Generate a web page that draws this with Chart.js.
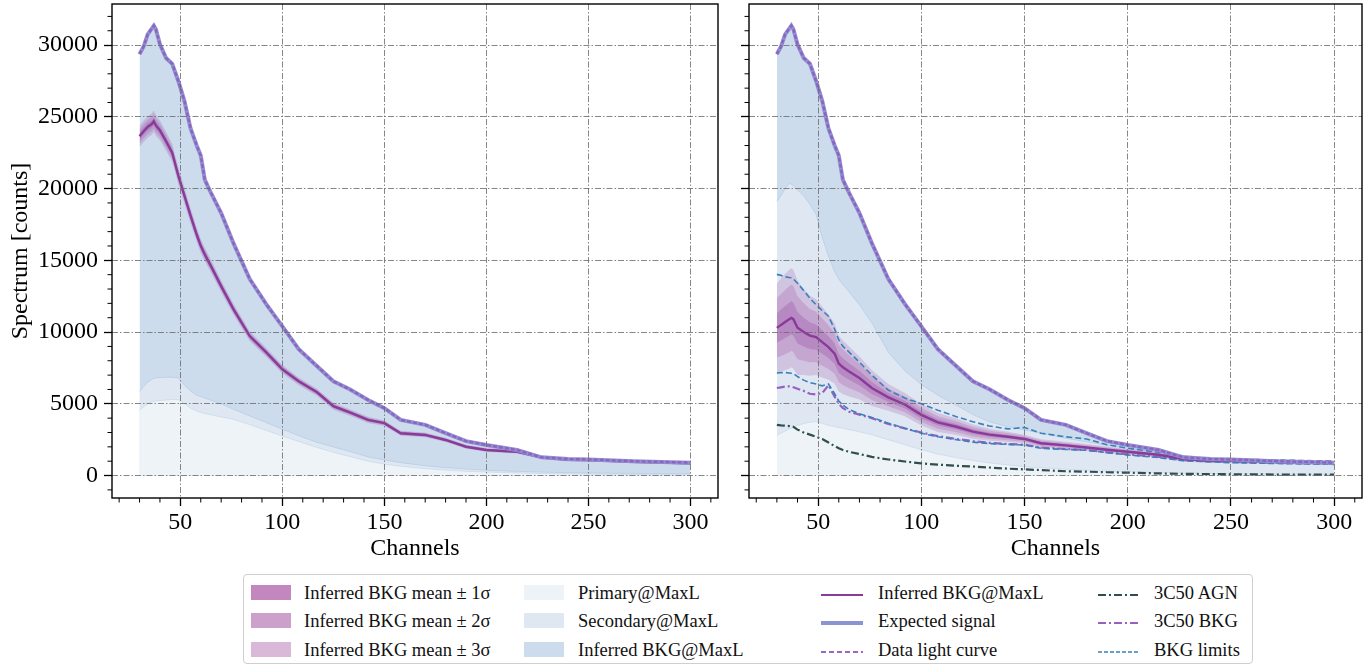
<!DOCTYPE html>
<html>
<head>
<meta charset="utf-8">
<script src="https://cdn.jsdelivr.net/npm/chart.js@4.4.1/dist/chart.umd.min.js"></script>
<style>
  body { margin: 0; background: #fff; width: 1371px; height: 668px; overflow: hidden;
         font-family: 'Liberation Serif', 'Times New Roman', serif; }
  #left { position: absolute; left: 0; top: 0; }
  #right { position: absolute; left: 730px; top: 0; }
  #legend { position: absolute; left: 243px; top: 574px; width: 1010px; height: 90px;
            border: 1px solid #cfcfcf; border-radius: 4px; box-sizing: border-box; }
  .sw { position: absolute; }
  .lbl { position: absolute; font-size: 18.5px; color: #111; white-space: nowrap; line-height: 20px; }
</style>
</head>
<body>
<canvas id="left" width="730" height="570"></canvas>
<canvas id="right" width="641" height="570"></canvas>
<div id="legend"></div>
<script>
const channels = [30, 32, 34, 36, 37, 38, 40, 43, 46, 49, 52, 55, 58, 60, 62, 65, 70, 76, 84, 92,
                  100, 108, 117, 125, 133, 142, 150, 158, 170, 180, 190, 200, 215, 227, 240, 250, 272, 300];

// both panels
const expectedSignal = [29370, 29900, 30750, 31150, 31350, 31100, 30050, 29100, 28700, 27500,
                        26100, 24200, 23000, 22300, 20600, 19700, 18300, 16200, 13700, 11960,
                        10400, 8810, 7620, 6570, 6010, 5270, 4700, 3880, 3530, 2950,
                        2400, 2130, 1780, 1270, 1150, 1120, 1000, 900];
const dataLightCurve = expectedSignal;

// left panel
const leftMean = [23640, 24000, 24300, 24500, 24690, 24400, 24060, 23300, 22500, 20900,
                  19500, 18110, 16800, 16010, 15400, 14600, 13200, 11600, 9720, 8600,
                  7410, 6570, 5800, 4830, 4400, 3880, 3650, 2950, 2830, 2480,
                  2010, 1780, 1660, 1270, 1100, 1080, 960, 860];
const leftSigma = [250, 250, 250, 250, 250, 240, 230, 220, 210, 200,
                   190, 180, 170, 165, 160, 150, 140, 130, 115, 105,
                   100, 90, 85, 80, 75, 70, 65, 60, 55, 50,
                   48, 45, 42, 40, 38, 36, 34, 32];
const leftPrimary = [4550, 4800, 5000, 5150, 5170, 5200, 5230, 5260, 5300, 5300,
                     5000, 4700, 4500, 4400, 4330, 4230, 4080, 3920, 3550, 3150,
                     2750, 2380, 1960, 1620, 1330, 1000, 800, 650, 480, 380,
                     300, 240, 180, 140, 110, 95, 70, 50];
const leftSecondary = [5870, 6200, 6500, 6700, 6780, 6800, 6830, 6850, 6850, 6800,
                       6300, 5900, 5600, 5500, 5400, 5250, 5000, 4620, 4150, 3700,
                       3220, 2780, 2310, 1990, 1680, 1300, 1080, 900, 680, 550,
                       450, 370, 290, 240, 200, 180, 150, 120];

// right panel
const rightMean = [10290, 10500, 10700, 10900, 10990, 10900, 10300, 10000, 9750, 9650,
                   9300, 8950, 8500, 7800, 7550, 7250, 6800, 6100, 5450, 4950,
                   4230, 3700, 3400, 3060, 2850, 2700, 2550, 2250, 2100, 1950,
                   1800, 1660, 1450, 1150, 1050, 1030, 960, 900];
const rightSigma = [1030, 1080, 1120, 1150, 1150, 1150, 1100, 1000, 930, 880,
                    820, 760, 700, 650, 620, 580, 500, 420, 310, 270,
                    250, 220, 190, 165, 140, 120, 100, 95, 85, 80,
                    75, 70, 65, 60, 55, 55, 50, 45];
const rightPrimary = [2820, 2950, 3100, 3250, 3300, 3380, 3500, 3620, 3720, 3760,
                      3650, 3500, 3420, 3350, 3300, 3200, 3050, 2850, 2500, 2150,
                      1800, 1500, 1250, 1050, 880, 740, 620, 540, 440, 370,
                      310, 270, 210, 170, 140, 120, 100, 80];
const rightSecondary = [19080, 19500, 20000, 20360, 20300, 20200, 19900, 19500, 18900, 18200,
                        16600, 15300, 14200, 13700, 13300, 12800, 11900, 10650, 8600, 7300,
                        6350, 5600, 4900, 4250, 3750, 3400, 3180, 2950, 2600, 2350,
                        2100, 1900, 1600, 1400, 1200, 1100, 900, 750];
const bkgUpper = [14020, 13950, 13850, 13800, 13780, 13700, 13400, 12900, 12350, 11900,
                  11500, 11100, 10200, 9450, 9000, 8600, 7900, 7000, 5950, 5400,
                  5000, 4550, 4100, 3750, 3450, 3250, 3350, 2950, 2700, 2550,
                  2150, 1900, 1620, 1270, 1180, 1150, 1080, 1010];
const bkgLower = [7150, 7170, 7180, 7150, 7130, 7100, 6900, 6650, 6480, 6380,
                  6250, 6380, 5700, 5200, 4900, 4600, 4300, 4050, 3650, 3300,
                  2950, 2700, 2500, 2330, 2230, 2170, 2130, 1900, 1820, 1760,
                  1600, 1430, 1250, 1030, 950, 900, 840, 780];
const bkg3C50 = [6100, 6150, 6200, 6220, 6200, 6150, 6050, 5900, 5700, 5650,
                 5750, 6300, 5500, 5000, 4700, 4450, 4250, 4000, 3600, 3280,
                 3000, 2750, 2550, 2400, 2280, 2200, 2150, 1950, 1850, 1780,
                 1620, 1480, 1300, 1080, 990, 950, 880, 820];
const agn3C50 = [3530, 3500, 3480, 3450, 3420, 3400, 3200, 3000, 2850, 2700,
                 2550, 2300, 2050, 1900, 1780, 1650, 1500, 1300, 1120, 980,
                 850, 760, 680, 630, 560, 480, 430, 380, 300, 270,
                 230, 200, 150, 120, 100, 90, 70, 60];

// ticks
const xTicks = [50, 100, 150, 200, 250, 300];
const yTicks = [0, 5000, 10000, 15000, 20000, 25000, 30000];

const FONT = "'Liberation Serif', 'Times New Roman', serif";
const gridColor = 'rgba(105,105,105,0.8)';

function pts(vals) {
    return channels.map((c, i) => ({ x: c, y: vals[i] }));
}

function band(mean, sigma, k, sign) {
    return mean.map((m, i) => m + sign * k * sigma[i]);
}

// datasets are pushed in drawing order (first = bottom)
function buildDatasets(mean, sigma, primary, secondary, extras) {
    var ds = [];
    function add(d) {
        d.pointRadius = 0;
        d.tension = 0;
        d.order = 1000 - ds.length;
        ds.push(d);
        return ds.length - 1;
    }
    add({ data: pts(expectedSignal), fill: 'origin', backgroundColor: '#ccdcec',
          borderColor: 'rgba(160,185,215,0.5)', borderWidth: 1 });
    add({ data: pts(secondary), fill: 'origin', backgroundColor: '#dfe8f2',
          borderColor: 'rgba(170,195,225,0.55)', borderWidth: 1 });
    add({ data: pts(primary), fill: 'origin', backgroundColor: '#eef3f8',
          borderColor: 'rgba(185,205,230,0.5)', borderWidth: 1 });

    var bandColors = { 3: 'rgba(160,70,165,0.22)', 2: 'rgba(150,60,155,0.22)', 1: 'rgba(140,45,145,0.24)' };
    [3, 2, 1].forEach(function (k) {
        var lo = add({ data: pts(band(mean, sigma, k, -1)), fill: false, borderWidth: 0, borderColor: 'transparent' });
        add({ data: pts(band(mean, sigma, k, 1)), fill: lo, backgroundColor: bandColors[k],
              borderWidth: 0, borderColor: 'transparent' });
    });

    if (extras) {
        add({ data: pts(agn3C50), fill: false, borderColor: '#2f4f4f', borderWidth: 2.2, borderDash: [8, 3, 2, 3] });
        add({ data: pts(bkg3C50), fill: false, borderColor: '#9660c0', borderWidth: 2.2, borderDash: [8, 3, 2, 3] });
        add({ data: pts(bkgUpper), fill: false, borderColor: '#3a80bb', borderWidth: 1.6, borderDash: [6, 3] });
        add({ data: pts(bkgLower), fill: false, borderColor: '#3a80bb', borderWidth: 1.6, borderDash: [6, 3] });
    }

    add({ data: pts(mean), fill: false, borderColor: '#8a3a98', borderWidth: 2.4 });
    add({ data: pts(expectedSignal), fill: false, borderColor: '#8c93d2', borderWidth: 4 });
    add({ data: pts(dataLightCurve), fill: false, borderColor: '#9460c0', borderWidth: 2.4, borderDash: [4, 2] });
    return ds;
}

// minor ticks and the black frame round the plot
const frameAndMinor = {
    id: 'frameAndMinor',
    afterDraw(chart) {
        const ctx = chart.ctx, a = chart.chartArea;
        const xs = chart.scales.x, ys = chart.scales.y;
        ctx.save();
        ctx.strokeStyle = '#000';
        ctx.lineWidth = 1;
        ctx.beginPath();
        for (let v = 20; v <= 310; v += 10) {
            if (v % 50 === 0) continue;
            const px = xs.getPixelForValue(v);
            ctx.moveTo(px, a.bottom);
            ctx.lineTo(px, a.bottom + 4.5);
        }
        for (let v = -1000; v <= 32000; v += 1000) {
            if (v % 5000 === 0) continue;
            const py = ys.getPixelForValue(v);
            ctx.moveTo(a.left, py);
            ctx.lineTo(a.left - 4.5, py);
        }
        ctx.stroke();
        ctx.lineWidth = 1.4;
        ctx.strokeRect(a.left, a.top, a.right - a.left, a.bottom - a.top);
        ctx.restore();
    }
};

function makeChart(id, datasets, yWidth, padRight, showY) {
    const ctx = document.getElementById(id).getContext('2d');
    return new Chart(ctx, {
        type: 'line',
        data: { datasets: datasets },
        options: {
            responsive: false,
            animation: false,
            layout: { padding: { left: 0, right: padRight, top: 4, bottom: 0 } },
            plugins: { legend: { display: false }, tooltip: { enabled: false } },
            scales: {
                x: {
                    type: 'linear', min: 16.5, max: 313.5,
                    afterBuildTicks: s => { s.ticks = xTicks.map(v => ({ value: v })); },
                    afterFit: s => { s.height = 72; s.paddingLeft = 0; s.paddingRight = 0; },
                    grid: { color: gridColor, lineWidth: 1, z: 1, tickLength: 8, tickColor: '#000',
                            tickWidth: 1.3, tickBorderDash: [] },
                    border: { display: false, dash: [6, 2, 1.5, 2] },
                    ticks: { autoSkip: false, maxRotation: 0, color: '#000', padding: 2,
                             font: { family: FONT, size: 24 }, callback: v => String(v) },
                    title: { display: true, text: 'Channels', color: '#000',
                             font: { family: FONT, size: 24 }, padding: { top: 0, bottom: 7 } }
                },
                y: {
                    type: 'linear', min: -1565, max: 32865,
                    afterBuildTicks: s => { s.ticks = yTicks.map(v => ({ value: v })); },
                    afterFit: s => { s.width = yWidth; s.paddingTop = 0; s.paddingBottom = 0; },
                    grid: { color: gridColor, lineWidth: 1, z: 1, tickLength: 8, tickColor: '#000',
                            tickWidth: 1.3, tickBorderDash: [] },
                    border: { display: false, dash: [6, 2, 1.5, 2] },
                    ticks: { display: showY, color: '#000', padding: 6,
                             font: { family: FONT, size: 24 }, callback: v => String(v) },
                    title: { display: showY, text: 'Spectrum [counts]', color: '#000',
                             font: { family: FONT, size: 24 }, padding: { top: 6, bottom: 0 } }
                }
            }
        },
        plugins: [frameAndMinor]
    });
}

// shared legend below both panels
const legendItems = [
    { col: 0, row: 0, kind: 'box', color: '#c187be', label: 'Inferred BKG mean ± 1σ' },
    { col: 0, row: 1, kind: 'box', color: '#cd9fcb', label: 'Inferred BKG mean ± 2σ' },
    { col: 0, row: 2, kind: 'box', color: '#dab9d8', label: 'Inferred BKG mean ± 3σ' },
    { col: 1, row: 0, kind: 'box', color: '#eef3f8', label: 'Primary@MaxL' },
    { col: 1, row: 1, kind: 'box', color: '#dfe8f2', label: 'Secondary@MaxL' },
    { col: 1, row: 2, kind: 'box', color: '#ccdcec', label: 'Inferred BKG@MaxL' },
    { col: 2, row: 0, kind: 'line', color: '#8a3a98', width: 2, dash: '', label: 'Inferred BKG@MaxL' },
    { col: 2, row: 1, kind: 'line', color: '#8c93d2', width: 4, dash: '', label: 'Expected signal' },
    { col: 2, row: 2, kind: 'line', color: '#9a68c4', width: 2, dash: '5 3', label: 'Data light curve' },
    { col: 3, row: 0, kind: 'line', color: '#2f4f4f', width: 2, dash: '8 3 2 3', label: '3C50 AGN' },
    { col: 3, row: 1, kind: 'line', color: '#9660c0', width: 2, dash: '8 3 2 3', label: '3C50 BKG' },
    { col: 3, row: 2, kind: 'line', color: '#3a80bb', width: 1.6, dash: '4 2', label: 'BKG limits' }
];
const swatchX = [7, 280, 577, 854];
const textX = [60, 334, 634, 910];
const rowY = [17.5, 46, 74.5];

document.addEventListener('DOMContentLoaded', function () {
    makeChart('left', buildDatasets(leftMean, leftSigma, leftPrimary, leftSecondary, false), 112, 12, true);
    makeChart('right', buildDatasets(rightMean, rightSigma, rightPrimary, rightSecondary, true), 19, 9, false);

    const legend = document.getElementById('legend');
    legendItems.forEach(function (it) {
        const sw = document.createElement('div');
        sw.className = 'sw';
        sw.style.left = swatchX[it.col] + 'px';
        if (it.kind === 'box') {
            sw.style.top = (rowY[it.row] - 8) + 'px';
            sw.style.width = '40px';
            sw.style.height = '15px';
            sw.style.background = it.color;
        } else {
            sw.style.top = (rowY[it.row] - 6) + 'px';
            sw.innerHTML = '<svg width="42" height="12"><line x1="0" y1="6" x2="42" y2="6" stroke="' + it.color +
                '" stroke-width="' + it.width + '" stroke-dasharray="' + it.dash + '"/></svg>';
        }
        legend.appendChild(sw);
        const t = document.createElement('div');
        t.className = 'lbl';
        t.style.left = textX[it.col] + 'px';
        t.style.top = (rowY[it.row] - 10) + 'px';
        t.textContent = it.label;
        legend.appendChild(t);
    });
});
</script>
</body>
</html>
